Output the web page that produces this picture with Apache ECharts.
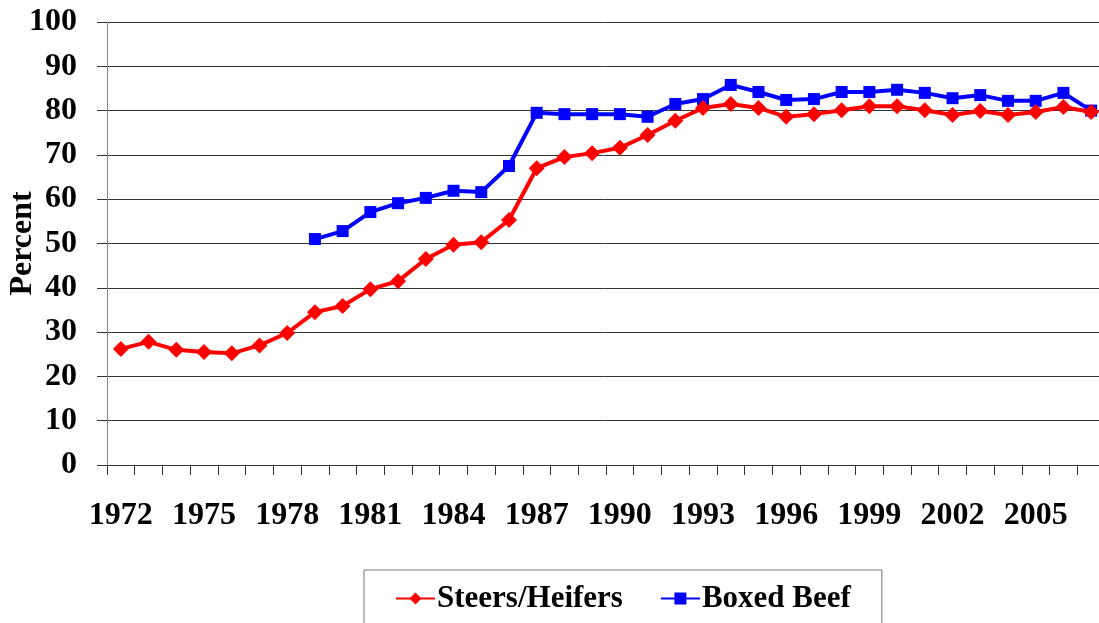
<!DOCTYPE html>
<html>
<head>
    <meta charset="UTF-8">
    <title>Steers/Heifers vs Boxed Beef</title>
    <script src="https://cdn.jsdelivr.net/npm/echarts@6/dist/echarts.min.js"></script>
</head>
<body style="margin:0;background:#fff;">
<div id="container" style="width:1099px;height:623px;"></div>
<script>
    // years on the category axis
    var years = [];
    for (var y = 1972; y <= 2007; y++) years.push(String(y));

    // percent values
    var steersHeifers = [26.2, 27.8, 26.0, 25.5, 25.2, 27.0, 29.8, 34.5, 35.9, 39.7,
        41.5, 46.5, 49.7, 50.3, 55.3, 67.0, 69.5, 70.4, 71.6, 74.5,
        77.7, 80.6, 81.5, 80.6, 78.6, 79.2, 80.1, 81.0, 81.0, 80.1,
        79.0, 79.9, 79.0, 79.7, 80.8, 79.7];
    var boxedBeef = [null, null, null, null, null, null, null, 51.0, 52.8, 57.1,
        59.1, 60.3, 61.9, 61.6, 67.5, 79.5, 79.2, 79.2, 79.2, 78.6,
        81.5, 82.6, 85.8, 84.2, 82.4, 82.6, 84.2, 84.2, 84.7, 84.0,
        82.8, 83.5, 82.2, 82.2, 84.0, 80.0];

    var serif = '"Liberation Serif", "Times New Roman", serif';

    var myChart = echarts.init(document.getElementById('container'));
    var option = {
        animation: false,
        textStyle: {fontFamily: serif},
        grid: {left: 107, right: -6, top: 22, bottom: 158, containLabel: false, outerBoundsMode: 'none'},
        legend: {
            left: 364,
            top: 570,
            padding: [13, 31, 13, 31],
            itemGap: 37,
            itemWidth: 39,
            itemHeight: 15,
            borderColor: '#777',
            borderWidth: 1,
            textStyle: {fontFamily: serif, fontSize: 31, fontWeight: 'bold', color: '#000', padding: [0, 0, 0, -3]},
            data: ['Steers/Heifers', 'Boxed Beef']
        },
        xAxis: {
            type: 'category',
            data: years,
            boundaryGap: true,
            axisLine: {lineStyle: {color: '#333', width: 1}},
            axisTick: {show: true, interval: 0, length: 10, lineStyle: {color: '#333'}},
            axisLabel: {interval: 2, margin: 35, fontFamily: serif, fontSize: 32, fontWeight: 'bold', color: '#000'},
            splitLine: {show: false}
        },
        yAxis: {
            type: 'value',
            min: 0,
            max: 100,
            interval: 10,
            name: 'Percent',
            nameLocation: 'middle',
            nameMoveOverlap: false,
            nameGap: 68,
            nameTextStyle: {fontFamily: serif, fontSize: 32, fontWeight: 'bold', color: '#000'},
            axisLine: {show: true, lineStyle: {color: '#888', width: 1}},
            axisTick: {show: true, length: 10, lineStyle: {color: '#333'}},
            axisLabel: {margin: 30, fontFamily: serif, fontSize: 32, fontWeight: 'bold', color: '#000'},
            splitLine: {show: true, lineStyle: {color: '#333', width: 1}}
        },
        series: [
            {
                name: 'Steers/Heifers',
                type: 'line',
                data: steersHeifers,
                symbol: 'diamond',
                symbolSize: 16,
                showAllSymbol: true,
                color: '#ff0000',
                lineStyle: {width: 4, color: '#ff0000'},
                itemStyle: {color: '#ff0000'},
                z: 3
            },
            {
                name: 'Boxed Beef',
                type: 'line',
                data: boxedBeef,
                symbol: 'rect',
                symbolSize: 12,
                showAllSymbol: true,
                color: '#0000ff',
                lineStyle: {width: 4, color: '#0000ff'},
                itemStyle: {color: '#0000ff'},
                z: 2
            }
        ]
    };
    myChart.setOption(option);
</script>
</body>
</html>
